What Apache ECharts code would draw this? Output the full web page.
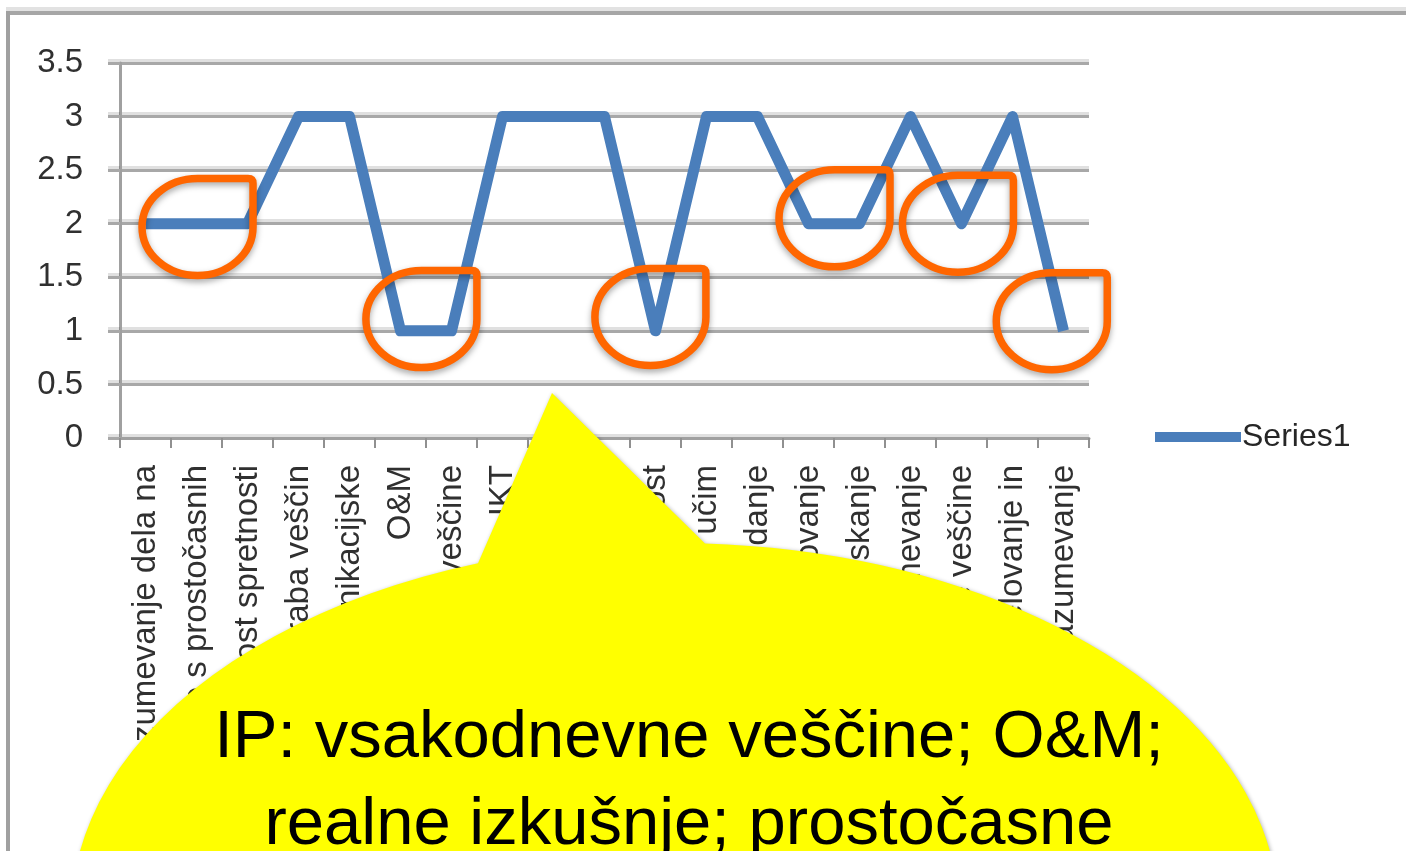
<!DOCTYPE html>
<html>
<head>
<meta charset="utf-8">
<script src="https://cdn.jsdelivr.net/npm/echarts@6/dist/echarts.min.js"></script>
<style>
html,body{margin:0;padding:0;background:#fff;}
#c{width:1406px;height:851px;}
</style>
</head>
<body>
<div id="c"></div>
<script>
// ---- data ----
var categories = [
  'Razumevanje dela na', 'Izkušnje s prostočasnih', 'Ročnost spretnosti', 'Uporaba veščin',
  'Komunikacijske', 'O&M', 'Vsakodnevne veščine', 'IKT', 'Realne izkušnje',
  'Prostočasne dejavnosti', 'Samostojnost', 'Kako se učim', 'Gledanje', 'Načrtovanje',
  'Iskanje', 'Razumevanje', 'Socialne veščine', 'Sodelovanje in', 'Sporazumevanje'
];
var series1 = [2, 2, 2, 3, 3, 1, 1, 3, 3, 3, 1, 3, 3, 2, 2, 3, 2, 3, 1];
var seriesName = 'Series1';
var yTicks = [0, 0.5, 1, 1.5, 2, 2.5, 3, 3.5];
// callout anchors: [category position, value]
var calloutAnchors = [[1.02, 1.97], [5.41, 1.11], [9.90, 1.13], [13.51, 2.05], [15.93, 2.0], [17.77, 1.09]];
var bubbleLines = ['IP: vsakodnevne veščine; O&M;', 'realne izkušnje; prostočasne'];

var chart = echarts.init(document.getElementById('c'), null, {renderer: 'canvas'});
var font = "'Liberation Sans', Arial, sans-serif";
var gridLine = {color: '#a8a8a8', width: 3, shadowColor: 'rgba(0,0,0,0.12)', shadowOffsetY: -3, shadowBlur: 0};

chart.setOption({
  animation: false,
  backgroundColor: '#ffffff',
  grid: {left: 120, right: 317, top: 63, bottom: 413, containLabel: false},
  legend: {
    data: [seriesName], orient: 'vertical', left: 1155, top: 421, padding: 0,
    icon: 'rect', itemWidth: 86, itemHeight: 10, itemGap: 0,
    textStyle: {fontFamily: font, fontSize: 32, color: '#262626', padding: [0, 0, 0, -4]}
  },
  xAxis: {
    type: 'category', data: categories, boundaryGap: true,
    axisLine: {lineStyle: {color: '#a0a0a0', width: 3}},
    axisTick: {show: true, length: 10, alignWithLabel: false, lineStyle: {color: '#909090', width: 2}},
    axisLabel: {interval: 0, rotate: 90, margin: 27, fontFamily: font, fontSize: 33, color: '#303030'},
    splitLine: {show: false}
  },
  yAxis: {
    type: 'value', min: yTicks[0], max: yTicks[yTicks.length - 1], interval: 0.5,
    axisLine: {show: true, lineStyle: {color: '#a0a0a0', width: 3}},
    axisTick: {show: true, length: 12, lineStyle: gridLine},
    axisLabel: {margin: 37, fontFamily: font, fontSize: 33, color: '#303030', padding: [10, 0, 0, 0]},
    splitLine: {show: true, lineStyle: gridLine}
  },
  series: [{
    name: seriesName, type: 'line', data: series1, symbol: 'none',
    lineStyle: {color: '#4a7ebb', width: 11, join: 'round', cap: 'butt'},
    itemStyle: {color: '#4a7ebb'}
  }]
});

function toPx(pos, val) {
  var i0 = Math.floor(pos), t = pos - i0;
  var a = chart.convertToPixel({gridIndex: 0}, [i0, val]);
  var b = chart.convertToPixel({gridIndex: 0}, [i0 + 1, val]);
  return [a[0] + (b[0] - a[0]) * t, a[1]];
}

// custom shapes built from SVG path data
var rx = 55.5, ry = 48.5, rc = 5;
var teardropPath = 'M0,' + (-ry) +
  ' L' + (rx - rc) + ',' + (-ry) +
  ' Q' + rx + ',' + (-ry) + ' ' + rx + ',' + (-ry + rc) +
  ' L' + rx + ',0' +
  ' A' + rx + ',' + ry + ' 0 1 1 0,' + (-ry) + ' Z';
echarts.graphic.registerShape('teardrop', echarts.graphic.extendPath(teardropPath, {}));
echarts.graphic.registerShape('speechBubble',
  echarts.graphic.extendPath('M552,393 L478,563.3 A603.5,370 0 1 0 705,543.5 Z', {}));

var graphics = [];
// slide frame
graphics.push({type: 'line', z: 50, shape: {x1: 6, y1: 9, x2: 1406, y2: 9}, style: {stroke: '#e2e2e2', lineWidth: 4}});
graphics.push({type: 'line', z: 50, shape: {x1: 6, y1: 13, x2: 1406, y2: 13}, style: {stroke: '#a6a6a6', lineWidth: 4}});
graphics.push({type: 'line', z: 50, shape: {x1: 8, y1: 11, x2: 8, y2: 851}, style: {stroke: '#a0a0a0', lineWidth: 4}});

// orange callouts
calloutAnchors.forEach(function (a) {
  var p = toPx(a[0], a[1]);
  graphics.push({
    type: 'teardrop', z: 60, x: p[0], y: p[1],
    style: {fill: 'none', stroke: '#ff6600', lineWidth: 7.5, lineJoin: 'round',
      shadowBlur: 6, shadowColor: 'rgba(0,0,0,0.35)', shadowOffsetY: 3}
  });
});

// yellow speech bubble
graphics.push({
  type: 'speechBubble', z: 80,
  style: {fill: '#ffff00', stroke: 'none', shadowBlur: 4, shadowColor: 'rgba(0,0,0,0.3)', shadowOffsetX: 1, shadowOffsetY: 1}
});
graphics.push({type: 'text', z: 90, x: 689, y: 739,
  style: {text: bubbleLines[0], fontFamily: font, fontSize: 67, fill: '#000', align: 'center', verticalAlign: 'middle'}});
graphics.push({type: 'text', z: 90, x: 689, y: 826,
  style: {text: bubbleLines[1], fontFamily: font, fontSize: 67, fill: '#000', align: 'center', verticalAlign: 'middle'}});

chart.setOption({graphic: graphics});
</script>
</body>
</html>
